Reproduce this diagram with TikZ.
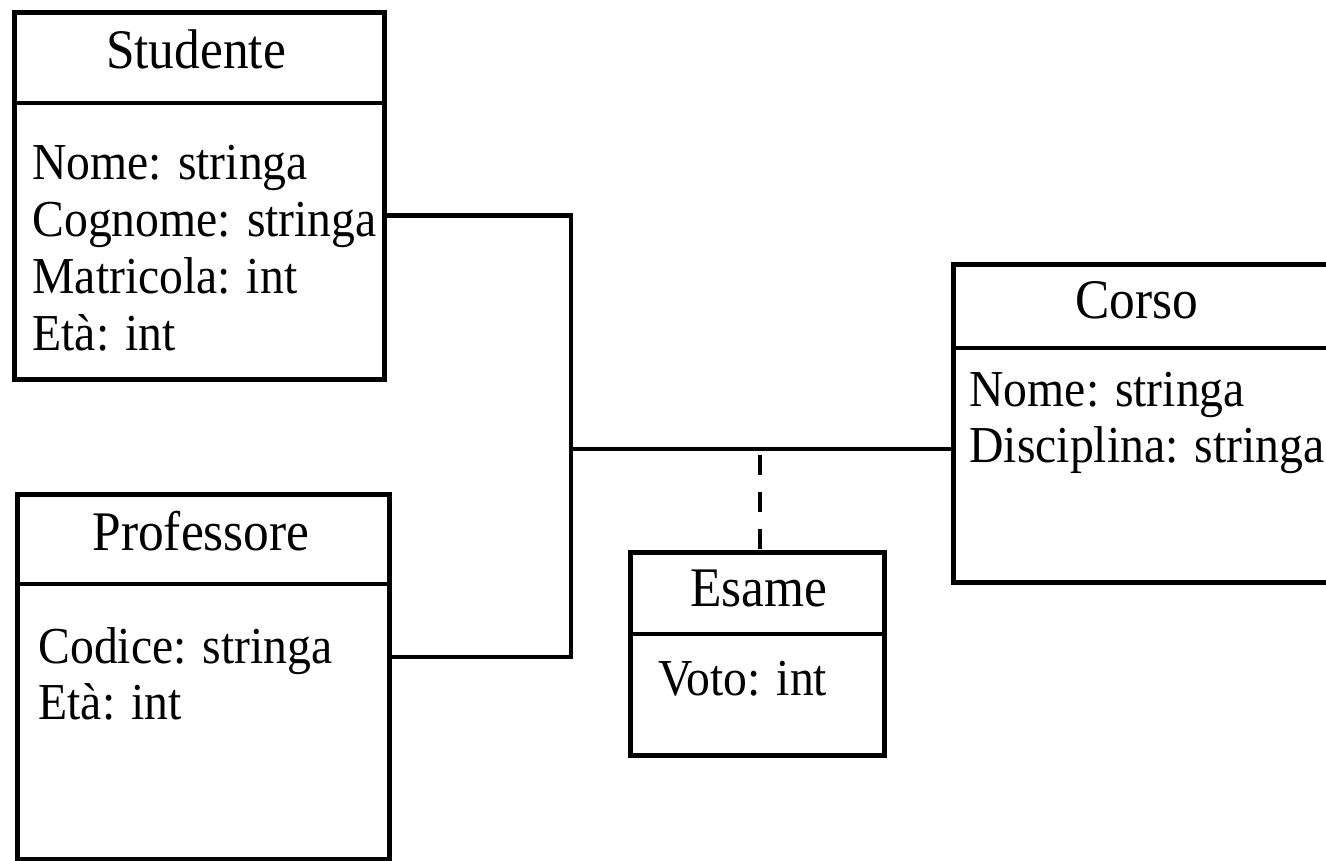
\documentclass[tikz,border=0pt]{standalone}
\usepackage{fontspec}
\setmainfont{Liberation Serif}[FakeStretch=0.92]
\usepackage{tikz}
\usetikzlibrary{positioning}

\begin{document}
\begin{tikzpicture}[x=0.02cm, y=-0.02cm, line width=2.8pt,
  font=\fontsize{29.5pt}{34pt}\selectfont,
  cls/.style={draw, rectangle, inner sep=0pt, anchor=north west},
  ttl/.style={inner sep=0pt, anchor=base, font=\fontsize{31.8pt}{36pt}\selectfont},
  attr/.style={inner sep=0pt, anchor=base west}]
\clip (0,0) rectangle (1326,861);
% class boxes
\node[cls, minimum width=7.4cm, minimum height=7.35cm] (studente) at (12,10) {};
\node[cls, minimum width=7.44cm, minimum height=7.3cm] (professore) at (15,492) {};
\node[cls, minimum width=5.08cm, minimum height=4.06cm] (esame) at (628,550) {};
\node[cls, minimum width=8cm, minimum height=6.36cm] (corso) at (951,262) {};
% header separators
\draw (studente.west |- 0,103) -- (studente.east |- 0,103);
\draw (professore.west |- 0,584) -- (professore.east |- 0,584);
\draw (esame.west |- 0,634) -- (esame.east |- 0,634);
\draw (corso.west |- 0,348) -- (corso.east |- 0,348);
% names
\node[ttl] (stTitle) at (196,69) {Studente};
\node[ttl] (prTitle) at (201,551) {Professore};
\node[ttl] (esTitle) at (759,606) {Esame};
\node[ttl] (coTitle) at (1137,319) {Corso};
% attributes
\node[attr] (stNome) at (30,180) {Nome: stringa};
\node[attr] (stCognome) at (30,237) {Cognome: stringa};
\node[attr] (stMatricola) at (30,294) {Matricola: int};
\node[attr] (stEta) at (30,351) {Età: int};
\node[attr] (prCodice) at (36,663) {Codice: stringa};
\node[attr] (prEta) at (36,719) {Età: int};
\node[attr] (esVoto) at (656,695) {Voto: int};
\node[attr] (coNome) at (967,407) {Nome: stringa};
\node[attr] (coDisciplina) at (967,463) {Disciplina: stringa};
% association
\coordinate (jtop) at (571,215.5);
\coordinate (jmid) at (571,449);
\coordinate (jbot) at (571,657);
\coordinate (link) at (760,455);
\draw (studente.east |- jtop) -- (jtop) -- (jbot) -- (professore.east |- jbot);
\draw (jmid) -- (corso.west |- jmid);
\draw[dash pattern=on 0.4cm off 0.34cm] (link) -- (link |- esame.north);
\end{tikzpicture}
\end{document}
